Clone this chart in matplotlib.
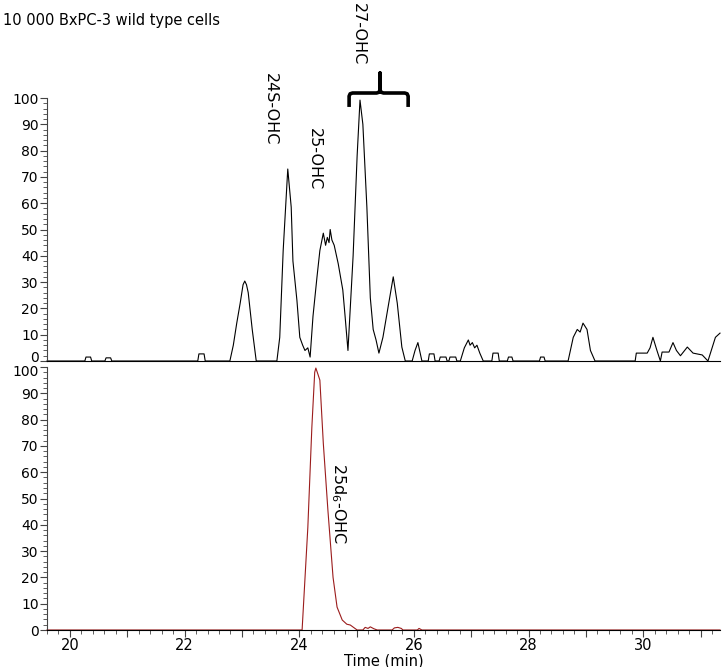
import numpy as np
import matplotlib.pyplot as plt
from matplotlib.ticker import MultipleLocator, FuncFormatter
from matplotlib.transforms import ScaledTranslation

# Top trace: BxPC-3 wild type cells (relative abundance vs retention time)
top_time = [19.60, 20.26, 20.28, 20.36, 20.38, 20.61, 20.63, 20.71, 20.73,
            22.23, 22.25, 22.34, 22.36, 22.79, 22.85, 22.91, 22.97, 23.02,
            23.05, 23.08, 23.11, 23.18, 23.25, 23.61, 23.66, 23.72, 23.77,
            23.80, 23.86, 23.89, 23.96, 24.01, 24.06, 24.10, 24.15, 24.19,
            24.24, 24.31, 24.36, 24.42, 24.46, 24.49, 24.52, 24.54, 24.57,
            24.61, 24.68, 24.76, 24.80, 24.85, 24.94, 25.01, 25.06, 25.11,
            25.18, 25.24, 25.29, 25.34, 25.39, 25.46, 25.55, 25.64, 25.71,
            25.79, 25.85, 25.97, 26.02, 26.07, 26.11, 26.14, 26.25, 26.27,
            26.35, 26.37, 26.44, 26.46, 26.56, 26.58, 26.61, 26.63, 26.73,
            26.75, 26.81, 26.88, 26.95, 26.98, 27.02, 27.06, 27.10, 27.15,
            27.21, 27.36, 27.38, 27.47, 27.49, 27.63, 27.65, 27.71, 27.73,
            28.19, 28.21, 28.27, 28.29, 28.69, 28.74, 28.78, 28.85, 28.90,
            28.95, 29.02, 29.08, 29.16, 29.86, 29.88, 30.07, 30.12, 30.17,
            30.24, 30.30, 30.33, 30.45, 30.52, 30.58, 30.65, 30.77, 30.87,
            31.03, 31.13, 31.26, 31.34]
top_abund = [0, 0, 1.5, 1.5, 0, 0, 1.2, 1.2, 0,
             0, 2.7, 2.7, 0, 0, 6, 14.4, 22, 29,
             30.4, 29, 26, 12, 0, 0, 9, 42, 61,
             73, 58.5, 38, 23, 9, 6, 4, 5, 1.5,
             17, 32, 42, 48.6, 44, 47, 45, 50, 46,
             44, 37, 27, 17, 4, 40, 78, 99.2, 90,
             58.5, 24, 12, 8, 3, 9, 20.5, 32, 22,
             5.3, 0, 0, 4, 7, 3, 0, 0, 2.7,
             2.7, 0, 0, 1.5, 1.5, 0, 0, 1.5, 1.5,
             0, 0, 5, 8, 6, 7, 5, 6, 3,
             0, 0, 3, 3, 0, 0, 1.5, 1.5, 0,
             0, 1.5, 1.5, 0, 0, 5, 9, 12, 11,
             14.4, 12, 4, 0, 0, 3, 3, 5, 9,
             4, 0, 3.4, 3.4, 7, 4, 2, 5.3, 3,
             2.3, 0, 9, 10.6]

# Bottom trace: internal standard 25d6-OHC
bot_time = [19.60, 24.05, 24.15, 24.22, 24.27, 24.29, 24.33, 24.36, 24.42,
            24.50, 24.59, 24.66, 24.75, 24.83, 24.89, 25.01, 25.11, 25.15,
            25.20, 25.24, 25.30, 25.36, 25.62, 25.66, 25.72, 25.78, 25.81,
            26.06, 26.09, 26.14, 31.34]
bot_abund = [0, 0, 39, 77, 98, 99.6, 97, 95, 71,
             45.6, 20, 8.7, 3.8, 2.2, 1.9, 0, 0, 1,
             0.6, 1.2, 0.5, 0, 0, 0.8, 1, 0.6, 0,
             0, 0.6, 0, 0]

title = "10 000 BxPC-3 wild type cells"
top_labels = ["24S-OHC", "25-OHC", "27-OHC"]
top_label_x = [23.49, 24.26, 25.03]
top_label_y = [109.5, 88.6, 136]
bot_label = "25d$_6$-OHC"

W, H = 722, 667
fig = plt.figure(figsize=(W / 100, H / 100), dpi=100)
ax1 = fig.add_axes([47 / W, 1 - 361 / H, 673 / W, 263 / H])
ax2 = fig.add_axes([47 / W, 1 - 630 / H, 673 / W, 263 / H])

tick_col = '#444444'
for ax in (ax1, ax2):
    ax.set_xlim(19.6, 31.34)
    ax.set_ylim(0, 100)
    for s in ('top', 'right'):
        ax.spines[s].set_visible(False)
    ax.spines['left'].set_color(tick_col)
    ax.spines['bottom'].set_color('black')
    ax.set_yticks(np.arange(0, 101, 10))
    ax.yaxis.set_minor_locator(MultipleLocator(2))
    ax.tick_params(axis='y', which='major', length=5, width=0.8, color=tick_col,
                   labelsize=10, pad=1)
    ax.tick_params(axis='y', which='minor', length=3, width=0.6, color=tick_col)

ax1.plot(top_time, top_abund, color='black', lw=0.8, clip_on=False)
ax1.tick_params(axis='x', which='both', bottom=False, labelbottom=False)

ax2.plot(bot_time, bot_abund, color='#9b1c1c', lw=0.8, clip_on=False)
ax2.xaxis.set_major_locator(MultipleLocator(1))
ax2.xaxis.set_minor_locator(MultipleLocator(0.2))
ax2.xaxis.set_major_formatter(FuncFormatter(lambda v, p: '%d' % v if round(v) % 2 == 0 else ''))
ax2.tick_params(axis='x', which='major', length=5, width=0.8, color=tick_col,
                labelsize=10.5, pad=1)
ax2.tick_params(axis='x', which='minor', length=3, width=0.6, color=tick_col)
ax2.set_xlabel("Time (min)", fontsize=10.5, labelpad=0)

fig.text(3 / W, 1 - 20 / H, title, fontsize=10.5, ha='left', va='center')

for lab, x, y in zip(top_labels, top_label_x, top_label_y):
    ax1.text(x, y, lab, rotation=-90, ha='center', va='top', fontsize=11.5,
             clip_on=False)
ax2.text(24.68, 63.5, bot_label, rotation=-90, ha='center', va='top',
         fontsize=11.5)

# curly bracket over the 27-OHC peaks
bl, br, bm = 24.87, 25.90, 25.41
y_end, y_bar, y_tip = 96.6, 101.9, 109.5
r = 0.06
bx = [bl, bl, bl + r * 0.3, bl + r, bm - r, bm - r * 0.3, bm, bm, bm,
      bm + r * 0.3, bm + r, br - r, br - r * 0.3, br, br]
by = [y_end, y_bar - 1.2, y_bar - 0.3, y_bar, y_bar, y_bar + 0.3, y_bar + 1.2,
      y_tip, y_bar + 1.2, y_bar + 0.3, y_bar, y_bar, y_bar - 0.3, y_bar - 1.2, y_end]
ax1.plot(bx, by, color='black', lw=2.6, clip_on=False, solid_capstyle='butt',
         solid_joinstyle='round')

# lift the top panel's "0" and lower the bottom panel's "100" so they don't collide
fig.canvas.draw()
lab0 = ax1.yaxis.get_major_ticks()[0].label1
lab0.set_transform(lab0.get_transform() + ScaledTranslation(0, 5 / 100, fig.dpi_scale_trans))
lab100 = ax2.yaxis.get_major_ticks()[-1].label1
lab100.set_transform(lab100.get_transform() + ScaledTranslation(0, -3 / 100, fig.dpi_scale_trans))

fig.savefig("out.png", dpi=100)
